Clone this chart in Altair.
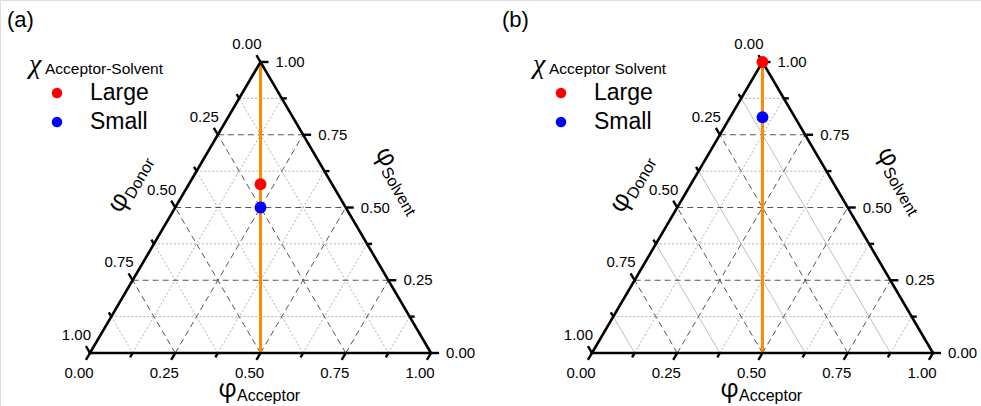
import altair as alt
import pandas as pd

# ---------------- values ----------------
panel_ids = ["a", "b"]
panel_letters = ["(a)", "(b)"]
legend_subscripts = ["Acceptor-Solvent", "Acceptor Solvent"]
categories = ["Large", "Small"]
category_colors = ["#ff0000", "#0000ff"]
# solvent fraction of each point (points lie on acceptor = donor line)
solvent_a = [0.58, 0.50]
solvent_b = [1.00, 0.81]
tick_values = [0.0, 0.25, 0.5, 0.75, 1.0]
tick_labels = ["0.00", "0.25", "0.50", "0.75", "1.00"]
minor_tick_values = [0.125, 0.375, 0.625, 0.875]
major_grid = [0.25, 0.5, 0.75]
minor_grid = [0.125, 0.375, 0.625, 0.875]
families = ["Acceptor", "Donor", "Solvent"]
orange_acceptor = 0.5   # the vertical line: acceptor fraction at the base

# ---------------- layout (pixels of the 981x406 canvas) ----------------
W, H = 981, 406
SX, SY = 341.0, 291.0          # px per unit of side / of height
X0, Y0 = 90.0, 353.0           # bottom-left vertex of panel (a)
SHIFTS = [0.0, 502.0 / SX]     # panel offsets in data units


def lay(xp, yp, shift=0.0):
    """pixel layout position -> data coordinates"""
    return (xp - X0) / SX + shift, (Y0 - yp) / SY


def seg(fam, c):
    if fam == "Solvent":
        return c / 2, c, 1 - c / 2, c
    if fam == "Acceptor":
        return c, 0.0, c + (1 - c) / 2, 1 - c
    return 1 - c, 0.0, (1 - c) / 2, 1 - c


def tick_point(fam, c):
    if fam == "Acceptor":
        return c, 0.0, (-0.507, 0.862)
    if fam == "Donor":
        return (1 - c) / 2, 1 - c, (-0.507, -0.862)
    return 1 - c / 2, c, (1.0, 0.0)


grid_rows, tick_rows, lab_rows, edge_rows = [], [], [], []
for pi, sh in enumerate(SHIFTS):
    for fam in families:
        for c in major_grid:
            x, y, x2, y2 = seg(fam, c)
            grid_rows.append(dict(x=x + sh, y=y, x2=x2 + sh, y2=y2, kind="major"))
        for c in minor_grid:
            x, y, x2, y2 = seg(fam, c)
            kind = "solid" if (pi == 1 and fam == "Donor") else "minor"
            grid_rows.append(dict(x=x + sh, y=y, x2=x2 + sh, y2=y2, kind=kind))
        for vals, L in ((tick_values, 8.0), (minor_tick_values, 5.0)):
            for c in vals:
                x, y, (dx, dy) = tick_point(fam, c)
                tick_rows.append(dict(x=x + sh, y=y, x2=x + sh + dx * L / SX,
                                      y2=y - dy * L / SY))
        for c, t in zip(tick_values, tick_labels):
            x, y, _ = tick_point(fam, c)
            lab_rows.append(dict(x=x + sh, y=y, text=t, fam=fam))
    for (x, y, x2, y2) in ((0, 0, 1, 0), (0, 0, 0.5, 1), (1, 0, 0.5, 1)):
        edge_rows.append(dict(x=x + sh, y=y, x2=x2 + sh, y2=y2))

grid_df = pd.DataFrame(grid_rows)
tick_df = pd.DataFrame(tick_rows)
lab_df = pd.DataFrame(lab_rows)
edge_df = pd.DataFrame(edge_rows)

orange_df = pd.DataFrame([dict(x=orange_acceptor + sh, y=0.0, y2=1.0) for sh in SHIFTS])

pt_rows = []
for sh, svals in zip(SHIFTS, [solvent_a, solvent_b]):
    for cat, s in zip(categories, svals):
        pt_rows.append(dict(x=(1 - s) / 2 + s / 2 + sh, y=s, cat=cat))
pt_df = pd.DataFrame(pt_rows)

# legends (drawn with the same colour scale)
LEG_DOT_X = [57, 561]
LEG_TXT_X = [90, 594]
LEG_Y = [93, 122]
leg_rows, chi_rows, sub_rows, letter_rows = [], [], [], []
for pi in range(2):
    for cat, yp in zip(categories, LEG_Y):
        dx_, dy_ = lay(LEG_DOT_X[pi], yp)
        tx_, ty_ = lay(LEG_TXT_X[pi], yp)
        leg_rows.append(dict(x=dx_, y=dy_, tx=tx_, cat=cat))
    cx, cy = lay([29, 533][pi], 65)
    chi_rows.append(dict(x=cx, y=cy, text="χ"))
    sx_, sy_ = lay([45, 549][pi], 69)
    sub_rows.append(dict(x=sx_, y=sy_, text=legend_subscripts[pi]))
    lx, ly = lay([7, 502][pi], 20)
    letter_rows.append(dict(x=lx, y=ly, text=panel_letters[pi]))
leg_df = pd.DataFrame(leg_rows)
chi_df = pd.DataFrame(chi_rows)
sub_df = pd.DataFrame(sub_rows)
letter_df = pd.DataFrame(letter_rows)

# axis titles (anchor between phi and its subscript)
title_rows = []
for sh in SHIFTS:
    for fam, (xp, yp), ang in (("Acceptor", (237, 389), 0),
                                ("Donor", (123, 194), 300),
                                ("Solvent", (391, 165), 60)):
        x, y = lay(xp, yp, sh)
        title_rows.append(dict(x=x, y=y, fam=fam, ang=ang))
title_df = pd.DataFrame(title_rows)

# ---------------- chart ----------------
xs = alt.Scale(domain=[-X0 / SX, (W - X0) / SX], nice=False, zero=False)
ys = alt.Scale(domain=[-(H - Y0) / SY, Y0 / SY], nice=False, zero=False)
X = alt.X("x:Q", scale=xs, axis=None)
Y = alt.Y("y:Q", scale=ys, axis=None)
color = alt.Color("cat:N", scale=alt.Scale(domain=categories, range=category_colors),
                  legend=None)
FONT = "Liberation Sans"
PHI_FONT = "Open Sans"
PHI = "φ"


def rules(df, **kw):
    return alt.Chart(df).mark_rule(**kw).encode(X, Y, x2="x2:Q", y2="y2:Q")


layers = [
    rules(grid_df[grid_df.kind == "minor"], color="#b0b0b0", strokeWidth=1,
          strokeDash=[2, 2]),
    rules(grid_df[grid_df.kind == "solid"], color="#c0c0c0", strokeWidth=1),
    rules(grid_df[grid_df.kind == "major"], color="#555555", strokeWidth=1,
          strokeDash=[6, 4]),
    alt.Chart(orange_df).mark_rule(color="#ff8c00", strokeWidth=3).encode(
        X, Y, y2="y2:Q"),
    rules(edge_df, color="black", strokeWidth=2.6, strokeCap="square"),
    rules(tick_df, color="black", strokeWidth=2.4),
    alt.Chart(pt_df).mark_circle(size=140, opacity=1).encode(X, Y, color),
    alt.Chart(leg_df).mark_circle(size=110, opacity=1).encode(X, Y, color),
    alt.Chart(leg_df).mark_text(align="left", baseline="middle", fontSize=23,
                                font=FONT, color="black").encode(
        x=alt.X("tx:Q", scale=xs, axis=None), y=Y, text="cat:N"),
    alt.Chart(chi_df).mark_text(align="left", baseline="middle", fontSize=28,
                                font="Liberation Serif", fontStyle="italic",
                                color="black").encode(X, Y, text="text:N"),
    alt.Chart(sub_df).mark_text(align="left", baseline="middle", fontSize=15.5,
                                font=FONT, color="black").encode(X, Y, text="text:N"),
    alt.Chart(letter_df).mark_text(align="left", baseline="middle", fontSize=22,
                                   font=FONT, color="black").encode(X, Y, text="text:N"),
    alt.Chart(lab_df[lab_df.fam == "Acceptor"]).mark_text(
        align="center", baseline="middle", dx=-11, dy=20, fontSize=15, font=FONT,
        color="black").encode(X, Y, text="text:N"),
    alt.Chart(lab_df[lab_df.fam == "Donor"]).mark_text(
        align="right", baseline="middle", dx=1, dy=-18, fontSize=15, font=FONT,
        color="black").encode(X, Y, text="text:N"),
    alt.Chart(lab_df[lab_df.fam == "Solvent"]).mark_text(
        align="left", baseline="middle", dx=15, dy=0, fontSize=15, font=FONT,
        color="black").encode(X, Y, text="text:N"),
]

for fam, ang in (("Acceptor", 0), ("Donor", 300), ("Solvent", 60)):
    d = title_df[title_df.fam == fam]
    layers.append(alt.Chart(d).mark_text(
        align="right", baseline="middle", fontSize=26, font=PHI_FONT, angle=ang,
        color="black").encode(X, Y, text=alt.value(PHI)))
    layers.append(alt.Chart(d).mark_text(
        align="left", baseline="middle", fontSize=16, font=FONT, angle=ang, dy=7,
        color="black").encode(X, Y, text=alt.value(fam)))

chart = alt.layer(*layers).properties(
    width=W, height=H, autosize=alt.AutoSizeParams(type="none"), padding=0
).configure_view(stroke=None).configure(background="white")

chart.save("out.html", embed_options={"renderer": "svg", "actions": False})
